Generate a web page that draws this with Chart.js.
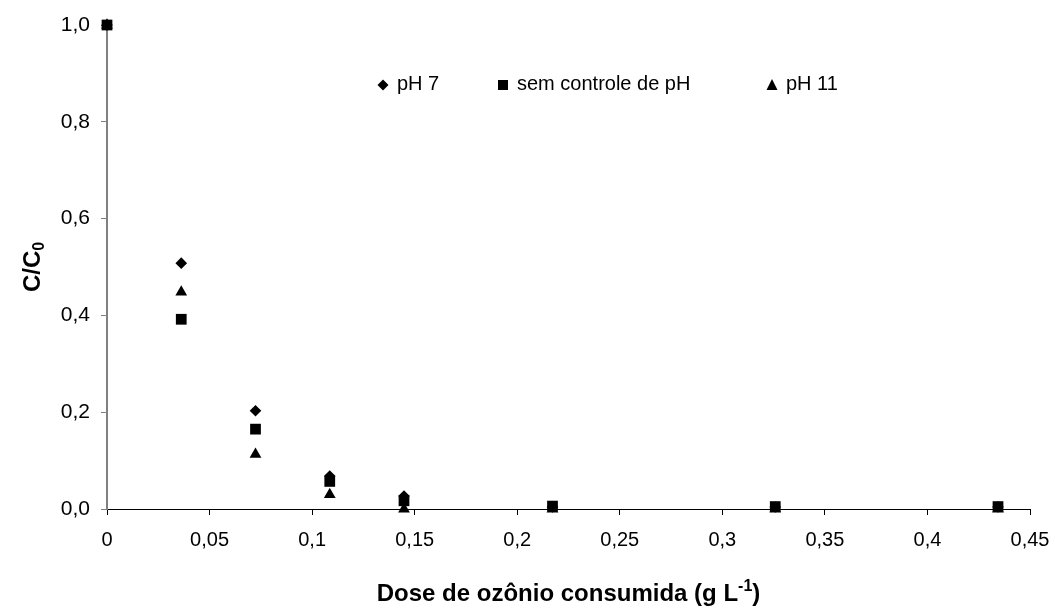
<!DOCTYPE html>
<html lang="pt">
<head>
<meta charset="utf-8">
<title>Dose de ozônio consumida</title>
<script src="https://cdn.jsdelivr.net/npm/chart.js@4.4.1/dist/chart.umd.min.js"></script>
<style>
    body { margin: 0; background: #fff; }
    #wrap { position: relative; width: 1055px; height: 610px; }
</style>
</head>
<body>
<div id="wrap"><canvas id="ozone-chart"></canvas></div>
<script>
// Ozone dose (g/L) and residual fraction C/C0
const doses = [0, 0.0362, 0.0724, 0.1086, 0.1448, 0.2172, 0.3258, 0.4344];
const ph7 = [1.0, 0.508, 0.203, 0.068, 0.027, 0.004, 0.004, 0.004];
const semControle = [1.0, 0.392, 0.165, 0.057, 0.017, 0.006, 0.005, 0.005];
const ph11 = [1.0, 0.448, 0.113, 0.030, 0.0, 0.0, 0.0, 0.0];

const xTicks = [0, 0.05, 0.1, 0.15, 0.2, 0.25, 0.3, 0.35, 0.4, 0.45];
const yTicks = [0, 0.2, 0.4, 0.6, 0.8, 1.0];

const FONT = '"Liberation Sans", Arial, sans-serif';

function toPoints(ys) {
    return doses.map((x, i) => ({ x: x, y: ys[i] }));
}

// Legend entries drawn inside the plot, Excel style
const legendItems = [
    { label: 'pH 7', shape: 'diamond', x: 383, y: 85 },
    { label: 'sem controle de pH', shape: 'square', x: 503, y: 85 },
    { label: 'pH 11', shape: 'triangle', x: 772, y: 85 }
];

function drawMarker(ctx, shape, x, y) {
    ctx.beginPath();
    if (shape === 'diamond') {
        ctx.moveTo(x, y - 5.5);
        ctx.lineTo(x + 5.5, y);
        ctx.lineTo(x, y + 5.5);
        ctx.lineTo(x - 5.5, y);
    } else if (shape === 'square') {
        ctx.rect(x - 5, y - 5, 10, 10);
    } else {
        ctx.moveTo(x, y - 6);
        ctx.lineTo(x + 5.5, y + 5);
        ctx.lineTo(x - 5.5, y + 5);
    }
    ctx.closePath();
    ctx.fill();
}

const insideLegend = {
    id: 'insideLegend',
    afterDraw(chart) {
        const ctx = chart.ctx;
        ctx.save();
        ctx.fillStyle = '#000';
        ctx.font = '20px ' + FONT;
        ctx.textBaseline = 'alphabetic';
        ctx.textAlign = 'left';
        legendItems.forEach(item => {
            drawMarker(ctx, item.shape, item.x, item.y);
            ctx.fillText(item.label, item.x + 14, 90);
        });
        ctx.restore();
    }
};

// Axis titles with real sub/superscripts
const axisTitles = {
    id: 'axisTitles',
    afterDraw(chart) {
        const ctx = chart.ctx;
        const area = chart.chartArea;
        const big = 'bold 24px ' + FONT;
        const small = 'bold 16px ' + FONT;
        ctx.save();
        ctx.fillStyle = '#000';
        ctx.textBaseline = 'alphabetic';
        ctx.textAlign = 'left';

        // x title: "Dose de ozônio consumida (g L" + sup "-1" + ")"
        const xMain = 'Dose de ozônio consumida (g L';
        const xSup = '-1';
        const xEnd = ')';
        ctx.font = big;
        const wMain = ctx.measureText(xMain).width;
        const wEnd = ctx.measureText(xEnd).width;
        ctx.font = small;
        const wSup = ctx.measureText(xSup).width;
        let x = (area.left + area.right) / 2 - (wMain + wSup + wEnd) / 2;
        const baseY = 601;
        ctx.font = big;
        ctx.fillText(xMain, x, baseY);
        x += wMain;
        ctx.font = small;
        ctx.fillText(xSup, x, baseY - 10);
        x += wSup;
        ctx.font = big;
        ctx.fillText(xEnd, x, baseY);

        // y title: "C/C" + sub "0", rotated
        ctx.translate(40, (area.top + area.bottom) / 2);
        ctx.rotate(-Math.PI / 2);
        ctx.font = big;
        const wC = ctx.measureText('C/C').width;
        ctx.font = small;
        const wSub = ctx.measureText('0').width;
        let tx = -(wC + wSub) / 2;
        ctx.font = big;
        ctx.fillText('C/C', tx, 0);
        tx += wC;
        ctx.font = small;
        ctx.fillText('0', tx, 4);
        ctx.restore();
    }
};

function commaLabel(v) {
    return String(Math.round(v * 100) / 100).replace('.', ',');
}

const ctx = document.getElementById('ozone-chart');

new Chart(ctx, {
    type: 'scatter',
    data: {
        datasets: [
            {
                label: 'pH 7',
                data: toPoints(ph7),
                pointStyle: 'rectRot',
                pointRadius: 5.8,
                backgroundColor: '#000',
                borderColor: '#000',
                borderWidth: 0,
                clip: false,
                order: 2
            },
            {
                label: 'sem controle de pH',
                data: toPoints(semControle),
                pointStyle: 'rect',
                pointRadius: 7.6,
                backgroundColor: '#000',
                borderColor: '#000',
                borderWidth: 0,
                clip: false,
                order: 0
            },
            {
                label: 'pH 11',
                data: toPoints(ph11),
                pointStyle: 'triangle',
                pointRadius: 6.8,
                backgroundColor: '#000',
                borderColor: '#000',
                borderWidth: 0,
                clip: false,
                order: 1
            }
        ]
    },
    options: {
        responsive: true,
        maintainAspectRatio: false,
        animation: false,
        layout: {
            padding: { top: 25, right: 25, left: 0, bottom: 0 }
        },
        plugins: {
            legend: { display: false },
            tooltip: { enabled: false }
        },
        scales: {
            x: {
                type: 'linear',
                min: 0,
                max: 0.45,
                afterBuildTicks: scale => {
                    scale.ticks = xTicks.map(v => ({ value: v }));
                },
                afterFit: scale => {
                    scale.height = 101;
                    scale.paddingLeft = 0;
                    scale.paddingRight = 0;
                },
                ticks: {
                    color: '#000',
                    font: { family: FONT, size: 20 },
                    padding: 13,
                    maxRotation: 0,
                    callback: v => commaLabel(v)
                },
                grid: {
                    drawOnChartArea: false,
                    drawTicks: true,
                    tickLength: 6,
                    color: '#000'
                },
                border: { display: true, color: '#000', width: 1 },
                title: { display: false }
            },
            y: {
                type: 'linear',
                min: 0,
                max: 1,
                afterBuildTicks: scale => {
                    scale.ticks = yTicks.map(v => ({ value: v }));
                },
                afterFit: scale => {
                    scale.width = 107;
                    scale.paddingTop = 0;
                    scale.paddingBottom = 0;
                },
                ticks: {
                    color: '#000',
                    font: { family: FONT, size: 21 },
                    padding: 11,
                    callback: v => v.toFixed(1).replace('.', ',')
                },
                grid: {
                    drawOnChartArea: false,
                    drawTicks: true,
                    tickLength: 6,
                    color: '#808080'
                },
                border: { display: true, color: '#808080', width: 2 },
                title: { display: false }
            }
        }
    },
    plugins: [insideLegend, axisTitles]
});
</script>
</body>
</html>
